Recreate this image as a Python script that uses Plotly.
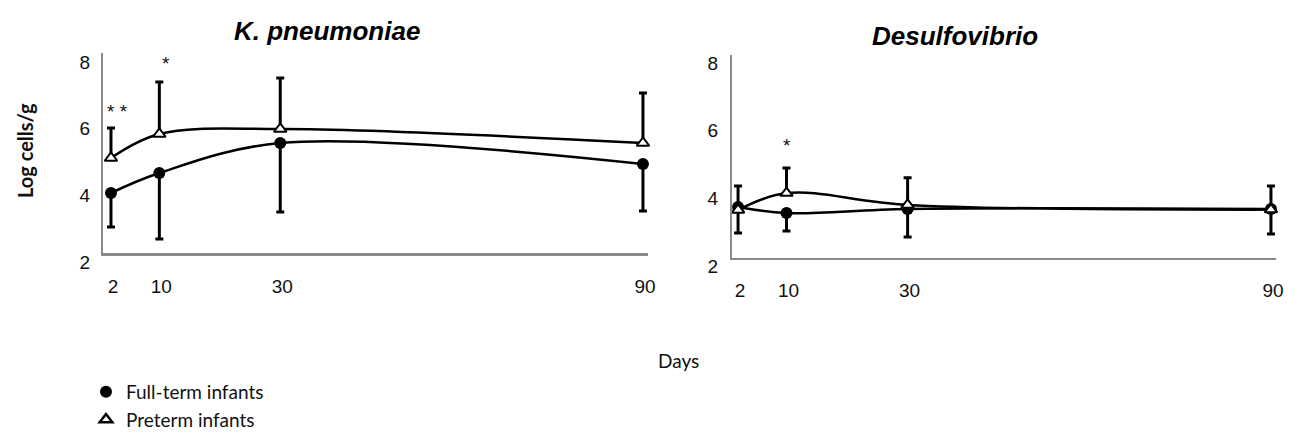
import plotly.graph_objects as go

# ---- data ----
days = [2, 10, 30, 90]
day_ticks = ["2", "10", "30", "90"]
y_ticks = [2, 4, 6, 8]

kp_full = [3.80, 4.40, 5.30, 4.67]
kp_full_err = [1.02, 1.98, 2.07, 1.41]
kp_pre = [4.85, 5.57, 5.72, 5.30]
kp_pre_err = [0.90, 1.56, 1.53, 1.50]

ds_full = [3.51, 3.33, 3.45, 3.45]
ds_full_err = [0.77, 0.53, 0.83, 0.74]
ds_pre = [3.42, 3.92, 3.57, 3.43]
ds_pre_err = [0.71, 0.74, 0.80, 0.70]

titles = ["K. pneumoniae", "Desulfovibrio"]
series_names = ["Full-term infants", "Preterm infants"]

# significance marks: (day, y value, text)
kp_sig = [(2, 6.25, "* *"), (10, 7.68, "*")]
ds_sig = [(10, 5.32, "*")]

W, H = 1299, 445
TICKFONT = dict(family="Liberation Sans, Arial, sans-serif", size=19, color="#111")

fig = go.Figure()


def add_panel(xa, ya, full, full_err, pre, pre_err):
    fig.add_trace(go.Scatter(
        x=days, y=full, xaxis=xa, yaxis=ya, mode="lines+markers",
        line=dict(color="black", width=2.5, shape="spline", smoothing=1),
        marker=dict(symbol="circle", size=12, color="black"),
        error_y=dict(type="data", symmetric=False, array=[0] * len(full),
                     arrayminus=full_err, color="black", thickness=3, width=4),
        cliponaxis=False, showlegend=False))
    fig.add_trace(go.Scatter(
        x=days, y=pre, xaxis=xa, yaxis=ya, mode="lines+markers",
        line=dict(color="black", width=2.5, shape="spline", smoothing=1),
        marker=dict(symbol="triangle-up", size=11, color="white",
                    line=dict(color="black", width=2)),
        error_y=dict(type="data", symmetric=False, array=pre_err,
                     arrayminus=[0] * len(pre), color="black", thickness=3, width=4),
        cliponaxis=False, showlegend=False))


add_panel("x", "y", kp_full, kp_full_err, kp_pre, kp_pre_err)
add_panel("x2", "y2", ds_full, ds_full_err, ds_pre, ds_pre_err)

# legend-only entries
fig.add_trace(go.Scatter(x=[None], y=[None], mode="markers", name=series_names[0],
                         marker=dict(symbol="circle", size=12, color="black")))
fig.add_trace(go.Scatter(x=[None], y=[None], mode="markers", name=series_names[1],
                         marker=dict(symbol="triangle-up", size=11, color="white",
                                     line=dict(color="black", width=2.5))))


def xaxis_cfg(domain, rng, lw, anchor):
    return dict(domain=domain, range=rng, tickvals=days, ticktext=day_ticks, anchor=anchor,
                showgrid=False, zeroline=False, showline=True, linecolor="#8a8a8a",
                linewidth=lw, ticks="", tickfont=TICKFONT, ticklabelstandoff=14,
                ticklabelshift=2, automargin=False, fixedrange=True)


def yaxis_cfg(domain, anchor, shift, standoff):
    return dict(domain=domain, range=[2, 8], tickvals=y_ticks, anchor=anchor,
                showgrid=False, zeroline=False, showline=True, linecolor="#8a8a8a",
                linewidth=2, ticks="", tickfont=TICKFONT, ticklabelshift=shift,
                ticklabelstandoff=standoff, automargin=False, fixedrange=True)


fig.update_layout(
    width=W, height=H,
    margin=dict(l=0, r=0, t=0, b=0, pad=0, autoexpand=False),
    paper_bgcolor="white", plot_bgcolor="white",
    xaxis=xaxis_cfg([103 / W, 647.8 / W], [0.68, 90.8], 3, "y"),
    yaxis=yaxis_cfg([1 - 253 / H, 1 - 53 / H], "x", 9, 7),
    xaxis2=xaxis_cfg([732 / W, 1275.8 / W], [1.0, 90.8], 2, "y2"),
    yaxis2=yaxis_cfg([1 - 258 / H, 1 - 55 / H], "x2", 8, 8),
    showlegend=True,
    legend=dict(x=86 / W, y=1 - 373 / H, xanchor="left", yanchor="top",
                font=dict(family="Lato, Open Sans, sans-serif", size=19, color="#111"),
                bgcolor="rgba(0,0,0,0)", tracegroupgap=0, itemwidth=30),
)

title_font = dict(family="Liberation Sans, Arial, sans-serif", size=26, color="black",
                  weight="bold", style="italic")
fig.add_annotation(text=titles[0], x=327 / W, y=1 - 31 / H, xref="paper", yref="paper",
                   xanchor="center", yanchor="middle", showarrow=False, font=title_font)
fig.add_annotation(text=titles[1], x=955 / W, y=1 - 36 / H, xref="paper", yref="paper",
                   xanchor="center", yanchor="middle", showarrow=False, font=title_font)

star_font = dict(family="Liberation Sans, Arial, sans-serif", size=19, color="#111")
for d, yv, t in kp_sig:
    fig.add_annotation(text=t, x=d, y=yv, xref="x", yref="y", showarrow=False,
                       xanchor="center", yanchor="middle", font=star_font, xshift=7)
for d, yv, t in ds_sig:
    fig.add_annotation(text=t, x=d, y=yv, xref="x2", yref="y2", showarrow=False,
                       xanchor="center", yanchor="middle", font=star_font)

fig.add_annotation(text="Log cells/g", x=25 / W, y=1 - 151 / H, xref="paper", yref="paper",
                   xanchor="center", yanchor="middle", showarrow=False, textangle=-90,
                   font=dict(family="Lato, sans-serif", size=20, color="#111", weight="bold"))
fig.add_annotation(text="Days", x=678 / W, y=1 - 360 / H, xref="paper", yref="paper",
                   xanchor="center", yanchor="middle", showarrow=False,
                   font=dict(family="Lato, sans-serif", size=19, color="#111"))

fig.write_html("out.html", config={"displayModeBar": False},
               post_script="document.body.style.margin='0';")
